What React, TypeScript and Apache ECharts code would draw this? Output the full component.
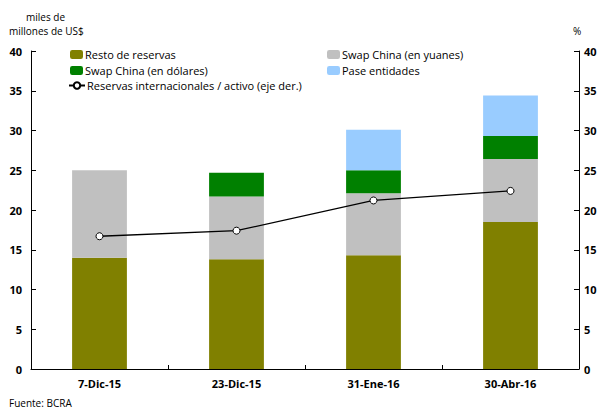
import React, { useEffect, useRef } from "react";
import * as echarts from "echarts";

const categories = ["7-Dic-15", "23-Dic-15", "31-Ene-16", "30-Abr-16"];
const resto = [14.0, 13.8, 14.3, 18.5];
const swapYuanes = [11.0, 7.9, 7.8, 7.9];
const swapDolares = [0, 3.0, 2.9, 2.9];
const pase = [0, 0, 5.1, 5.1];
const ratio = [16.7, 17.4, 21.2, 22.4];

const FONT = "'Open Sans', 'DejaVu Sans', sans-serif";

export default function App() {
  const ref = useRef<HTMLDivElement>(null);
  useEffect(() => {
    const chart = echarts.init(ref.current!, null, { renderer: "svg" });
    const legendText = { fontFamily: FONT, fontSize: 11, color: "#000" };
    const mkLegend = (name: string, left: number, top: number, isLine = false) => ({
      data: [name],
      left,
      top,
      itemWidth: isLine ? 16 : 13,
      itemHeight: isLine ? 8 : 9,
      itemGap: 2,
      padding: 0,
      textStyle: { ...legendText, padding: [0, 0, 0, -3] },
      selectedMode: false,
    });
    const axisLabel = { fontFamily: FONT, fontSize: 11, fontWeight: "bold", color: "#000" };
    const tick = { show: true, inside: true, length: 5, lineStyle: { color: "#000" } };
    chart.setOption({
      animation: false,
      backgroundColor: "#fff",
      textStyle: { fontFamily: FONT },
      grid: { left: 31, right: 25, top: 51, bottom: 43 },
      legend: [
        mkLegend("Resto de reservas", 70, 49),
        mkLegend("Swap China (en yuanes)", 327, 49),
        mkLegend("Swap China (en dólares)", 70, 65),
        mkLegend("Pase entidades", 327, 65),
        mkLegend("Reservas internacionales / activo (eje der.)", 68, 80, true),
      ],
      xAxis: {
        type: "category",
        data: categories,
        boundaryGap: true,
        axisLine: { lineStyle: { color: "#000", width: 1 } },
        axisTick: { show: true, inside: true, length: 4, lineStyle: { color: "#000" } },
        axisLabel: { ...axisLabel, margin: 9 },
      },
      yAxis: [
        {
          type: "value",
          min: 0,
          max: 40,
          interval: 5,
          position: "left",
          splitLine: { show: false },
          axisLine: { show: true, lineStyle: { color: "#000" } },
          axisTick: tick,
          axisLabel: { ...axisLabel, margin: 9 },
        },
        {
          type: "value",
          min: 0,
          max: 40,
          interval: 5,
          position: "right",
          splitLine: { show: false },
          axisLine: { show: true, lineStyle: { color: "#000" } },
          axisTick: tick,
          axisLabel: { ...axisLabel, margin: 5 },
        },
      ],
      series: [
        {
          name: "Resto de reservas",
          type: "bar",
          stack: "r",
          barWidth: "40%",
          data: resto,
          itemStyle: { color: "#808000" },
        },
        {
          name: "Swap China (en yuanes)",
          type: "bar",
          stack: "r",
          data: swapYuanes,
          itemStyle: { color: "#C0C0C0" },
        },
        {
          name: "Swap China (en dólares)",
          type: "bar",
          stack: "r",
          data: swapDolares,
          itemStyle: { color: "#008000" },
        },
        {
          name: "Pase entidades",
          type: "bar",
          stack: "r",
          data: pase,
          itemStyle: { color: "#99CCFF" },
        },
        {
          name: "Reservas internacionales / activo (eje der.)",
          type: "line",
          yAxisIndex: 1,
          data: ratio,
          symbol: "circle",
          symbolSize: 7,
          lineStyle: { color: "#000", width: 1.3 },
          itemStyle: { color: "#fff", borderColor: "#000", borderWidth: 1 },
        },
      ],
      graphic: [
        {
          type: "text",
          left: 26,
          top: 12,
          style: { text: "miles de", fontFamily: FONT, fontSize: 10, fill: "#000" },
        },
        {
          type: "text",
          left: 9,
          top: 26,
          style: { text: "millones de US$", fontFamily: FONT, fontSize: 10, fill: "#000" },
        },
        {
          type: "text",
          left: 573,
          top: 26,
          style: { text: "%", fontFamily: FONT, fontSize: 10, fill: "#000" },
        },
        {
          type: "text",
          left: 9,
          top: 398,
          style: { text: "Fuente: BCRA", fontFamily: FONT, fontSize: 10, fill: "#000" },
        },
      ],
    });
    return () => chart.dispose();
  }, []);
  return <div ref={ref} style={{ width: 604, height: 412, position: "absolute", left: 0, top: 0 }} />;
}
